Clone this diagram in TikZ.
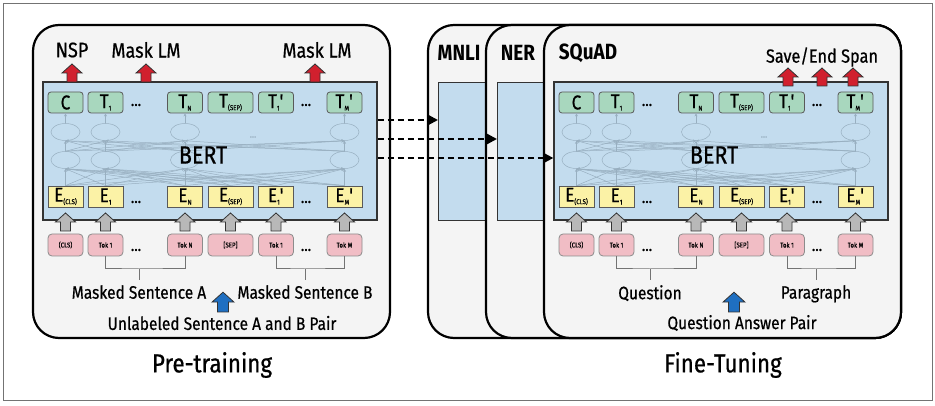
\documentclass[tikz,border=0pt]{standalone}
\usepackage{fontspec}
\setmainfont{Fira Sans}[FakeStretch=0.86, UprightFeatures={FakeBold=0.6}]
\usetikzlibrary{positioning,shapes.geometric,arrows.meta}

\definecolor{panelgray}{HTML}{F4F4F4}
\definecolor{bertblue}{HTML}{C3DCEE}
\definecolor{tgreen}{HTML}{A8D7BE}
\definecolor{eyellow}{HTML}{FBF2A6}
\definecolor{tokpink}{HTML}{F1BDC5}
\definecolor{arrred}{HTML}{D1202E}
\definecolor{arrgray}{HTML}{B8B8B8}
\definecolor{arrblue}{HTML}{1F6FC1}
\definecolor{netgray}{HTML}{98AFC0}

\newcommand{\fs}[1]{\fontsize{#1}{#1}\selectfont}
\newcommand{\lowsub}[1]{\raisebox{-2.5pt}{\fs{7}#1}}
\newcommand{\prm}{\textquotesingle}

\tikzset{
  frame/.style={draw=black!55, line width=1pt},
  panel/.style={draw=black, line width=2.2pt, fill=panelgray, rounded corners=26pt},
  bertbox/.style={draw=black!80, line width=1.3pt, fill=bertblue, inner sep=0pt},
  tbox/.style={draw=black!65, line width=0.8pt, fill=tgreen, rounded corners=3pt,
    minimum height=21pt, inner sep=0pt, font=\fs{20}},
  ebox/.style={draw=black!65, line width=0.8pt, fill=eyellow,
    minimum height=21pt, inner sep=0pt, font=\fs{20}},
  tokbox/.style={draw=black!45, line width=0.8pt, fill=tokpink, rounded corners=4pt,
    minimum height=22pt, inner sep=0pt, font=\fs{7}},
  cell/.style={ellipse, draw=netgray, line width=0.5pt, minimum width=29pt,
    minimum height=17pt, inner sep=0pt},
  net/.style={draw=netgray, line width=0.5pt},
  netarr/.style={net, -{Stealth[length=3pt,width=3pt]}},
  dots/.style={inner sep=0pt, font=\fs{16}},
  bracket/.style={draw=black!55, line width=1pt},
  lbl/.style={inner sep=0pt, font=\fs{18}},
  title/.style={inner sep=0pt, font=\fs{26}},
  task/.style={inner sep=0pt, font=\fs{22}\bfseries},
  dasharr/.style={line width=2.2pt, dash pattern=on 6pt off 4pt,
    -{Triangle[length=10pt,width=10pt]}},
  pics/blockup/.style={code={
    \draw[line width=0.8pt, draw=black!80, fill=#1]
      (-5,0) -- (-5,-9) -- (-10,-9) -- (0,-18) -- (10,-9) -- (5,-9) -- (5,0) -- cycle;}}
}

\begin{document}
\begin{tikzpicture}[x=1pt,y=-1pt]
  \fill[white] (0,0) rectangle (935,406);
  \useasboundingbox (0,0) rectangle (935,406);
  \draw[frame] (3,4) rectangle (932,400);

  % panels
  \draw[panel] (33,25) rectangle (390,338);
  \draw[panel] (428,25) rectangle (901,338);
  \node[bertbox, anchor=north west, minimum width=62, minimum height=138] (mnli-box) at (438,82) {};
  \draw[panel] (486,25) rectangle (901,338);
  \node[bertbox, anchor=north west, minimum width=62, minimum height=138] (ner-box) at (497,82) {};
  \draw[panel] (544,25) rectangle (901,338);

  \node[task] (mnli) at (459,53) {MNLI};
  \node[task] (ner) at (518,53) {NER};
  \node[task] (squad) at (588,53) {SQuAD};

  % both BERT blocks
  \foreach \p/\dx/\la/\lb/\lc/\cx/\ttl in {
      pt/0/Masked Sentence A/Masked Sentence B/Unlabeled Sentence A and B Pair/222/Pre-training,
      ft/511/Question/Paragraph/Question Answer Pair/231/Fine-Tuning}{
    \node[bertbox, minimum width=334, minimum height=138] (\p-bert) at ({210+\dx},151) {};

    \foreach \n/\x/\w/\t/\e/\k in {
        cls/65.5/35/C/E\lowsub{(CLS)}/(CLS),
        a1/105.5/35/T\lowsub{1}/E\lowsub{1}/Tok 1,
        aN/185/35/T\lowsub{N}/E\lowsub{N}/Tok N,
        sep/230.5/45/T\lowsub{(SEP)}/E\lowsub{(SEP)}/{[SEP]},
        b1/276/35/T\lowsub{1}\prm/E\lowsub{1}\prm/Tok 1,
        bM/344.5/35/T\lowsub{M}\prm/E\lowsub{M}\prm/Tok M}{
      \node[tbox, minimum width=\w] (\p-T-\n) at ({\x+\dx},102.5) {\t};
      \node[ebox, minimum width=\w] (\p-E-\n) at ({\x+\dx},196.5) {\e};
      \node[tokbox, minimum width=\w] (\p-K-\n) at ({\x+\dx},245) {\k};
    }

    \foreach \n/\x in {cls/65.5,a1/105.5,aN/185,bM/344.5}{
      \node[cell] (\p-u-\n) at ({\x+\dx},132) {};
      \node[cell] (\p-l-\n) at ({\x+\dx},160) {};
      \draw[netarr] (\p-u-\n.north) -- (\p-T-\n.south);
    }
    \foreach \i in {cls,a1,aN,bM}
      \foreach \j in {cls,a1,aN,bM}
        \draw[netarr] (\p-l-\i.north) -- (\p-u-\j.south);
    \foreach \i in {cls,a1,aN,sep,b1,bM}
      \foreach \j in {cls,a1,aN,bM}
        \draw[netarr] (\p-E-\i.north) -- (\p-l-\j.south);

    \node[font=\fs{25}, inner sep=0pt] (\p-name) at ({203+\dx},155) {BERT};
    \node[dots, text=netgray, font=\fs{10}] (\p-cdots) at ({253+\dx},137) {\dots};

    \foreach \x/\r in {136/1,306/2}{
      \node[dots] (\p-tdots-\r) at ({\x+\dx},105) {\dots};
      \node[dots] (\p-edots-\r) at ({\x+\dx},202) {\dots};
      \node[dots] (\p-kdots-\r) at ({\x+\dx},250) {\dots};
    }

    % input arrows
    \foreach \n/\x in {cls/65.5,a1/105.5,aN/185,sep/230.5,b1/276,bM/344.5}
      \pic (\p-g-\n) at ({\x+\dx},231) {blockup=arrgray};

    % sentence brackets
    \coordinate (\p-ja) at ({139+\dx},269);
    \coordinate (\p-ja-end) at ({139+\dx},280);
    \coordinate (\p-jb) at ({305+\dx},269);
    \coordinate (\p-jb-end) at ({305+\dx},280);
    \draw[bracket] (\p-K-a1.south) |- (\p-ja) -| (\p-K-aN.south);
    \draw[bracket] (\p-ja) -- (\p-ja-end);
    \draw[bracket] (\p-K-b1.south) |- (\p-jb) -| (\p-K-bM.south);
    \draw[bracket] (\p-jb) -- (\p-jb-end);
    \node[lbl, below=5pt of \p-ja-end] (\p-la) {\la};
    \node[lbl, below=5pt of \p-jb-end] (\p-lb) {\lb};

    \pic[scale=1.1] (\p-in) at ({223+\dx},312) {blockup=arrblue};
    \node[lbl] (\p-lc) at ({\cx+\dx},323) {\lc};
    \node[title] (\p-title) at ({212+\dx},365) {\ttl};
  }

  % outputs
  \pic (nsp-up) at (72,82) {blockup=arrred};
  \pic (mlm-up) at (146,82) {blockup=arrred};
  \pic (mlm2-up) at (315,82) {blockup=arrred};
  \node[lbl, font=\fs{21}] (nsp) at (72,50) {NSP};
  \node[lbl, font=\fs{21}] (mlm) at (146,50) {Mask LM};
  \node[lbl, font=\fs{21}] (mlm2) at (317,50) {Mask LM};

  \pic (span-up1) at (788,86) {blockup=arrred};
  \pic (span-up2) at (822,86) {blockup=arrred};
  \pic (span-up3) at (853,86) {blockup=arrred};
  \node[lbl, font=\fs{19}] (span) at (822,57) {Save/End Span};

  % transfer
  \draw[dasharr] ([yshift=31pt]pt-bert.east) -- ([yshift=31pt]pt-bert.east -| mnli-box.west);
  \draw[dasharr] ([yshift=12pt]pt-bert.east) -- ([yshift=12pt]pt-bert.east -| ner-box.west);
  \draw[dasharr] ([yshift=-7pt]pt-bert.east) -- ([yshift=-7pt]pt-bert.east -| ft-bert.west);

\end{tikzpicture}
\end{document}
